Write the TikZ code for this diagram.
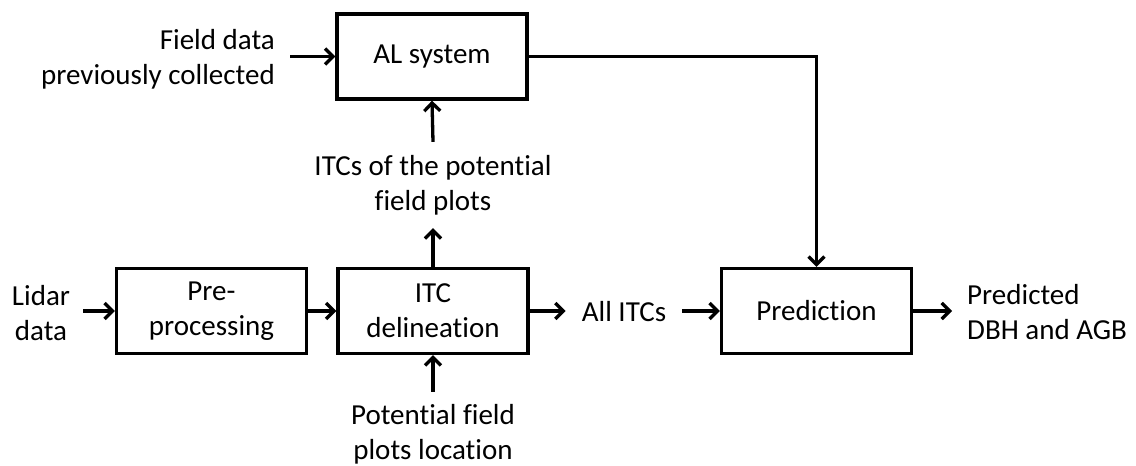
\documentclass[tikz,border=0pt]{standalone}
\usepackage{fontspec}
\setmainfont{Carlito}[Ligatures=NoCommon]
\usetikzlibrary{arrows.meta}
\begin{document}
\begin{tikzpicture}[x=1pt,y=-1pt,
  every node/.style={font=\fontsize{29}{35}\selectfont},
  box/.style={draw,line width=3.3pt,minimum width=190pt,minimum height=85pt,align=center,inner sep=0pt},
  txt/.style={align=center,inner sep=0pt},
  arr/.style={line width=3.3pt,-{Straight Barb[length=8pt,width=16pt]}}]
\path[use as bounding box] (0,0) rectangle (1136,466);
\node[box] (al) at (432,56.5) {AL system};
\node[box] (pre) at (211.5,311) {Pre-\\processing};
\node[box] (itc) at (433,311) {ITC\\delineation};
\node[box] (pred) at (816.5,311) {Prediction};
\node[txt,align=right,anchor=east] (field) at (275,59.5) {Field data\\previously collected};
\node[txt] (lidar) at (41,313) {Lidar\\data};
\node[txt,minimum height=86pt] (itcs) at (433,185) {ITCs of the potential\\field plots};
\node[txt,minimum height=85pt] (pot) at (433,434.5) {Potential field\\plots location};
\node[txt] (all) at (624,312) {All ITCs};
\node[txt,align=left,anchor=west] (out) at (967,312) {Predicted\\DBH and AGB};
\draw[arr] ([xshift=15pt]field.east |- al.west) -- (al.west);
\draw[arr] ([xshift=13pt]lidar.east |- pre.west) -- (pre.west);
\draw[arr] (pre.east) -- (itc.west);
\draw[arr] (itc.east) -- ([xshift=-16pt]all.west |- itc.east);
\draw[arr] ([xshift=16pt]all.east |- pred.west) -- (pred.west);
\draw[arr] (pred.east) -- ([xshift=-15pt]out.west |- pred.east);
\draw[arr] (itc.north) -- (itcs.south);
\draw[arr] (itcs.north) -- (al.south);
\draw[arr] (pot.north) -- (itc.south);
\draw[arr] (al.east) -| (pred.north);
\end{tikzpicture}
\end{document}
